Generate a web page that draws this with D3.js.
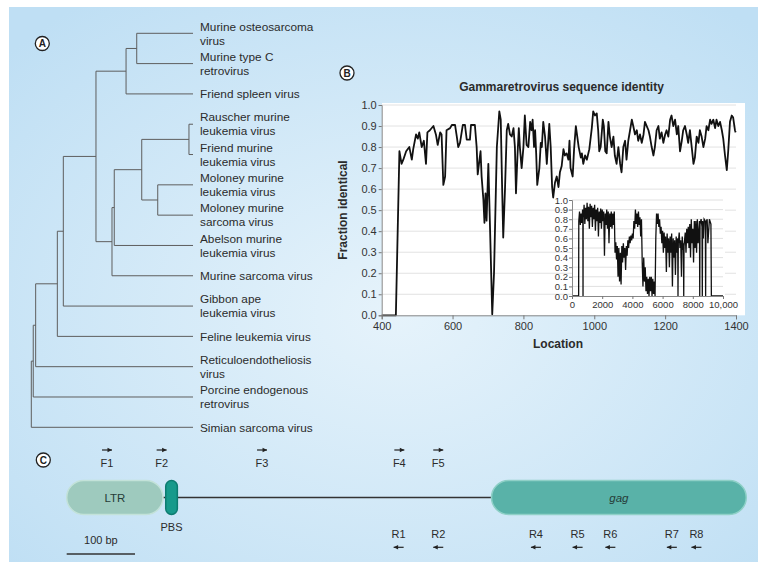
<!DOCTYPE html>
<html>
<head>
<meta charset="utf-8">
<script src="https://cdn.jsdelivr.net/npm/d3@7"></script>
<style>
  body { margin: 0; background: #fff; }
  svg { display: block; font-family: "Liberation Sans", Arial, sans-serif; }
</style>
</head>
<body>
<div id="fig"></div>
<script>
const width = 758, height = 562;

// ---- panel A: tree, flat table (id, parent, distance from root 0..1)
const treeNodes = [
  ["n0", "", 0], ["n1", "n0", 0.012], ["n2", "n1", 0.027], ["n3", "n2", 0.161],
  ["n4", "n3", 0.198], ["n5", "n4", 0.40], ["n6", "n5", 0.586], ["n7", "n6", 0.652],
  ["n8", "n5", 0.499], ["n9", "n8", 0.513], ["n10", "n9", 0.683], ["n11", "n10", 0.975],
  ["n12", "n10", 0.782]
];
// leaves, top to bottom, with their parent node
const leafNames = [
  "Murine osteosarcoma|virus", "Murine type C|retrovirus", "Friend spleen virus",
  "Rauscher murine|leukemia virus", "Friend murine|leukemia virus",
  "Moloney murine|leukemia virus", "Moloney murine|sarcoma virus",
  "Abelson murine|leukemia virus", "Murine sarcoma virus", "Gibbon ape|leukemia virus",
  "Feline leukemia virus", "Reticuloendotheliosis|virus", "Porcine endogenous|retrovirus",
  "Simian sarcoma virus"
];
const leafParents = ["n7", "n7", "n6", "n11", "n11", "n12", "n12", "n9", "n8", "n4", "n3", "n2", "n1", "n0"];

// ---- panel B: identity along the genome (location, fraction identical)
const yTicks = [0, 0.1, 0.2, 0.3, 0.4, 0.5, 0.6, 0.7, 0.8, 0.9, 1.0];
const locTicks = [400, 600, 800, 1000, 1200, 1400];
const identity = [[400,0],[440,0],[450,0.78],[456,0.72],[461,0.74],[469,0.78],[478,0.80],[485,0.74],[489,0.79],[497,0.86],[502,0.84],[506,0.87],[513,0.80],[519,0.83],[525,0.72],[529,0.87],[536,0.88],[546,0.90],[553,0.86],[558,0.81],[565,0.87],[569,0.86],[574,0.62],[579,0.66],[583,0.88],[593,0.89],[598,0.905],[607,0.905],[612,0.85],[616,0.80],[621,0.82],[629,0.905],[635,0.905],[640,0.835],[649,0.835],[652,0.905],[663,0.905],[668,0.80],[671,0.67],[676,0.74],[679,0.78],[682,0.66],[687,0.55],[690,0.44],[693,0.58],[696,0.45],[701,0.72],[706,0.40],[712,0.005],[717,0.20],[725,0.80],[732,0.97],[736,0.93],[740,0.60],[743,0.37],[748,0.60],[753,0.88],[757,0.91],[762,0.86],[767,0.85],[772,0.89],[776,0.80],[779,0.58],[783,0.75],[787,0.89],[790,0.80],[795,0.70],[800,0.80],[804,0.95],[809,0.81],[814,0.80],[819,0.92],[823,0.88],[826,0.93],[830,0.80],[833,0.88],[836,0.77],[839,0.62],[845,0.70],[849,0.82],[852,0.80],[856,0.92],[861,0.85],[866,0.72],[873,0.91],[877,0.80],[881,0.61],[884,0.56],[889,0.63],[894,0.66],[899,0.61],[903,0.68],[908,0.71],[913,0.79],[917,0.76],[922,0.77],[927,0.74],[930,0.83],[933,0.70],[939,0.66],[943,0.79],[948,0.90],[952,0.85],[956,0.80],[962,0.75],[965,0.77],[969,0.72],[974,0.76],[979,0.74],[986,0.79],[993,0.89],[997,0.97],[1002,0.95],[1007,0.96],[1011,0.88],[1014,0.78],[1018,0.80],[1024,0.93],[1027,0.90],[1031,0.78],[1035,0.77],[1040,0.92],[1044,0.85],[1049,0.80],[1054,0.85],[1058,0.76],[1063,0.72],[1068,0.80],[1073,0.72],[1077,0.68],[1082,0.80],[1087,0.83],[1091,0.74],[1096,0.83],[1101,0.88],[1106,0.93],[1110,0.90],[1115,0.86],[1120,0.88],[1124,0.83],[1129,0.86],[1134,0.82],[1139,0.86],[1143,0.92],[1148,0.90],[1153,0.88],[1157,0.85],[1162,0.80],[1167,0.76],[1171,0.80],[1176,0.88],[1181,0.90],[1185,0.84],[1190,0.87],[1195,0.82],[1200,0.86],[1204,0.88],[1209,0.85],[1214,0.93],[1218,0.95],[1223,0.90],[1228,0.93],[1233,0.86],[1237,0.90],[1242,0.78],[1247,0.83],[1251,0.88],[1256,0.90],[1261,0.86],[1265,0.82],[1270,0.88],[1275,0.80],[1280,0.72],[1284,0.75],[1289,0.85],[1294,0.82],[1298,0.88],[1303,0.85],[1308,0.80],[1313,0.84],[1317,0.90],[1322,0.88],[1327,0.93],[1331,0.91],[1336,0.93],[1341,0.89],[1345,0.93],[1350,0.90],[1355,0.92],[1360,0.88],[1364,0.84],[1369,0.76],[1374,0.69],[1378,0.78],[1383,0.92],[1388,0.95],[1392,0.94],[1397,0.88],[1399,0.87]];

// inset: whole genome
const insetTicks = [0, 2000, 4000, 6000, 8000, 10000];
const genome = [[0,0],[440,0],[450,0.78],[500,0.88],[550,0.74],[600,0.86],[650,0.76],[700,0.90],[720,0.80],[730,0],[740,0.82],[770,0.85],[800,0.95],[850,0.75],[900,0.92],[950,0.80],[1000,0.97],[1050,0.78],[1100,0.93],[1150,0.70],[1200,0.96],[1250,0.82],[1300,0.94],[1350,0.72],[1400,0.92],[1450,0.80],[1500,0.95],[1550,0.68],[1600,0.90],[1650,0.78],[1700,0.92],[1750,0.62],[1800,0.88],[1850,0.76],[1900,0.91],[1950,0.70],[2000,0.90],[2050,0.78],[2100,0.88],[2150,0.42],[2200,0.86],[2250,0.74],[2300,0.90],[2350,0.70],[2400,0.88],[2450,0.55],[2500,0.86],[2550,0.72],[2600,0.88],[2650,0.70],[2700,0.86],[2750,0.74],[2800,0.88],[2850,0.45],[2900,0.56],[2950,0.38],[3000,0.52],[3050,0.20],[3100,0.50],[3150,0.15],[3200,0.45],[3250,0.12],[3300,0.52],[3350,0.35],[3400,0.55],[3450,0.40],[3500,0.50],[3550,0.27],[3600,0.52],[3650,0.42],[3700,0.58],[3750,0.50],[3800,0.62],[3850,0.55],[3900,0.63],[3950,0.58],[4000,0.65],[4050,0.60],[4100,0.78],[4150,0.70],[4200,0.90],[4250,0.75],[4300,0.86],[4350,0.72],[4400,0.88],[4450,0.74],[4500,0.82],[4550,0.62],[4600,0.80],[4650,0.35],[4700,0.10],[4750,0.40],[4800,0.15],[4850,0.30],[4900,0.05],[4950,0.20],[5000,0.02],[5050,0.18],[5100,0],[5150,0.20],[5200,0.05],[5250,0.20],[5300,0],[5350,0.18],[5400,0.02],[5450,0.15],[5500,0],[5550,0.60],[5600,0.86],[5650,0.75],[5700,0.86],[5750,0.72],[5800,0.80],[5850,0.65],[5900,0.72],[5950,0.55],[6000,0.68],[6050,0.45],[6100,0.66],[6150,0.50],[6200,0.62],[6250,0.25],[6300,0.65],[6350,0.45],[6400,0.60],[6450,0.30],[6500,0.62],[6550,0.45],[6600,0.65],[6650,0.10],[6700,0.60],[6750,0.40],[6800,0.58],[6850,0.22],[6900,0.62],[6950,0.45],[7000,0.60],[7020,0],[7040,0.55],[7100,0.66],[7150,0.50],[7200,0.58],[7250,0.20],[7300,0.62],[7350,0.48],[7380,0.55],[7400,0],[7420,0.52],[7500,0.66],[7550,0.45],[7600,0.70],[7650,0.55],[7700,0.72],[7750,0.50],[7800,0.75],[7850,0.40],[7900,0.80],[7950,0.55],[8000,0.70],[8050,0.35],[8100,0.78],[8150,0.50],[8200,0.78],[8250,0.45],[8300,0.80],[8350,0.55],[8440,0.78],[8460,0],[8480,0.75],[8550,0.80],[8610,0.72],[8630,0],[8650,0.78],[8700,0.60],[8750,0.80],[8830,0.78],[8850,0],[8870,0.76],[8950,0.80],[9000,0.55],[9100,0.80],[9200,0.75],[9230,0],[10000,0]];

// ---- panel C: genome map in bp
const featureNames = ["LTR", "PBS", "gag"];
const featureStart = [0, 145, 622];
const featureEnd = [141, 162, 995];
const fwdNames = ["F1", "F2", "F3", "F4", "F5"];
const fwdPos = [59, 139, 286, 487, 544];
const revNames = ["R1", "R2", "R4", "R5", "R6", "R7", "R8"];
const revPos = [486, 544, 687, 748, 796, 886, 922];
const scaleBarBp = 100;

const svg = d3.select("#fig").append("svg")
    .attr("width", width)
    .attr("height", height);

const defs = svg.append("defs");
const grad = defs.append("radialGradient").attr("id", "bg")
    .attr("cx", "52%").attr("cy", "55%").attr("r", "70%");
grad.append("stop").attr("offset", "0%").attr("stop-color", "#e6f3fb");
grad.append("stop").attr("offset", "100%").attr("stop-color", "#bfdff4");

svg.append("rect").attr("x", 9).attr("y", 7)
    .attr("width", width - 9).attr("height", height - 7)
    .attr("fill", "url(#bg)");

const ink = "#2b2b2b";

function panelLabel(x, y, letter) {
    svg.append("circle").attr("cx", x).attr("cy", y).attr("r", 7)
        .attr("fill", "#fff").attr("stroke", "#222").attr("stroke-width", 1.3);
    svg.append("text").attr("x", x).attr("y", y).attr("dy", "0.36em")
        .attr("text-anchor", "middle").style("font-size", "10px")
        .style("font-weight", "bold").attr("fill", "#222").text(letter);
}

// ============ A: tree
const rows = treeNodes.map(d => ({id: d[0], parent: d[1] || null, d: d[2]}))
    .concat(leafNames.map((n, i) => ({id: n, parent: leafParents[i], d: 1})));
const root = d3.stratify().id(d => d.id).parentId(d => d.parent)(rows);

const xTree = d3.scaleLinear().domain([0, 1]).range([31.3, 193]);
const yLeaf = d3.scalePoint().domain(leafNames).range([33.3, 427.3]);

root.eachAfter(n => {
    n.y = n.children ? d3.mean(n.children, c => c.y) : yLeaf(n.id);
});

const tg = svg.append("g").attr("stroke", "#5e5e5e").attr("stroke-width", 1).attr("fill", "none");
root.descendants().forEach(n => {
    if (n.children) {
        const ys = n.children.map(c => c.y);
        tg.append("line").attr("x1", xTree(n.data.d)).attr("x2", xTree(n.data.d))
            .attr("y1", d3.min(ys)).attr("y2", d3.max(ys));
    }
    if (n.parent) {
        tg.append("line").attr("x1", xTree(n.parent.data.d)).attr("x2", xTree(n.data.d))
            .attr("y1", n.y).attr("y2", n.y);
    }
});

const lg = svg.append("g").style("font-size", "11.8px").attr("fill", ink);
root.leaves().forEach(n => {
    const lines = n.id.split("|");
    lines.forEach((t, i) => {
        lg.append("text").attr("x", 200)
            .attr("y", n.y + (i - (lines.length - 1) / 2) * 14)
            .attr("dy", "0.36em").text(t);
    });
});

panelLabel(42.3, 43.5, "A");

// ============ B: identity plot
const x = d3.scaleLinear().domain([400, 1400]).range([381.7, 736]);
const y = d3.scaleLinear().domain([0, 1]).range([315.3, 105]);

svg.append("rect").attr("x", 382).attr("y", 103)
    .attr("width", 745 - 382).attr("height", 315.3 - 103).attr("fill", "#fff");

svg.append("g").selectAll("line").data(yTicks.slice(1)).join("line")
    .attr("x1", x(400)).attr("x2", x(1400))
    .attr("y1", d => y(d)).attr("y2", d => y(d))
    .attr("stroke", "#e2e2e2").attr("stroke-width", 1);

const line = d3.line().x(d => x(d[0])).y(d => y(d[1]));
svg.append("path").datum(identity).attr("d", line)
    .attr("fill", "none").attr("stroke", "#111").attr("stroke-width", 1.8)
    .attr("stroke-linejoin", "round");

const yAxis = svg.append("g").attr("transform", `translate(${x(400)},0)`)
    .call(d3.axisLeft(y).tickValues(yTicks).tickFormat(d3.format(".1f")).tickSize(3).tickPadding(2));
const xAxis = svg.append("g").attr("transform", `translate(0,${y(0)})`)
    .call(d3.axisBottom(x).tickValues(locTicks).tickFormat(d3.format("d")).tickSize(4).tickPadding(3));
[yAxis, xAxis].forEach(a => {
    a.selectAll("text").style("font-size", "11px").attr("fill", "#333")
        .style("font-family", "\"Liberation Sans\", Arial, sans-serif");
    a.selectAll("line").attr("stroke", "#777");
    a.select(".domain").attr("stroke", "#888");
});

svg.append("text").attr("x", 561.5).attr("y", 87).attr("dy", "0.36em")
    .attr("text-anchor", "middle").style("font-size", "12px").style("font-weight", "bold")
    .attr("fill", ink).text("Gammaretrovirus sequence identity");
svg.append("text").attr("x", 558).attr("y", 344).attr("dy", "0.36em")
    .attr("text-anchor", "middle").style("font-size", "12px").style("font-weight", "bold")
    .attr("fill", ink).text("Location");
svg.append("text").attr("transform", "translate(343,210) rotate(-90)").attr("dy", "0.36em")
    .attr("text-anchor", "middle").style("font-size", "12px").style("font-weight", "bold")
    .attr("fill", ink).text("Fraction identical");

panelLabel(347, 73, "B");

// inset
const x2 = d3.scaleLinear().domain([0, 10000]).range([572, 723]);
const y2 = d3.scaleLinear().domain([0, 1]).range([296, 200]);

svg.append("rect").attr("x", x2(0)).attr("y", y2(1) - 2)
    .attr("width", x2(10000) - x2(0) + 2).attr("height", y2(0) - y2(1) + 2).attr("fill", "#fff");
svg.append("g").selectAll("line").data(yTicks.slice(1)).join("line")
    .attr("x1", x2(0)).attr("x2", x2(10000))
    .attr("y1", d => y2(d)).attr("y2", d => y2(d))
    .attr("stroke", "#e0e0e0").attr("stroke-width", 1);

const line2 = d3.line().x(d => x2(d[0])).y(d => y2(d[1]));
svg.append("path").datum(genome).attr("d", line2)
    .attr("fill", "none").attr("stroke", "#111").attr("stroke-width", 1.3);

const iy = svg.append("g").attr("transform", `translate(${x2(0)},0)`)
    .call(d3.axisLeft(y2).tickValues(yTicks).tickFormat(d3.format(".1f")).tickSize(3).tickPadding(1));
const ix = svg.append("g").attr("transform", `translate(0,${y2(0)})`)
    .call(d3.axisBottom(x2).tickValues(insetTicks)
        .tickFormat(d => d >= 10000 ? d3.format(",")(d) : String(d)).tickSize(3).tickPadding(2));
[iy, ix].forEach(a => {
    a.selectAll("text").style("font-size", "9.5px").attr("fill", "#333")
        .style("font-family", "\"Liberation Sans\", Arial, sans-serif");
    a.selectAll("line").attr("stroke", "#777");
    a.select(".domain").attr("stroke", "#888");
});

// ============ C: genome map
panelLabel(43.3, 460, "C");

const bp = d3.scaleLinear().domain([0, 100]).range([66.7, 135]);
const midY = 497.5, boxH = 34;
const fills = {LTR: "#9ecabe", PBS: "#179a8b", gag: "#59b2a8"};
const rims = {LTR: "#c3e2d9", PBS: "#0d7c70", gag: "#8fd0c7"};

svg.append("line").attr("x1", bp(featureEnd[0])).attr("x2", bp(featureStart[2]))
    .attr("y1", midY).attr("y2", midY).attr("stroke", "#333").attr("stroke-width", 1.5);

featureNames.forEach((name, i) => {
    const x0 = bp(featureStart[i]), x1 = bp(featureEnd[i]);
    const w = x1 - x0;
    const r = Math.min(boxH / 2, w / 2);
    svg.append("rect").attr("x", x0).attr("y", midY - boxH / 2)
        .attr("width", w).attr("height", boxH).attr("rx", r).attr("ry", r)
        .attr("fill", fills[name]).attr("stroke", rims[name]).attr("stroke-width", 1.5);
    if (name !== "PBS") {
        svg.append("text").attr("x", (x0 + x1) / 2).attr("y", midY).attr("dy", "0.36em")
            .attr("text-anchor", "middle").style("font-size", "11.5px")
            .style("font-style", name === "gag" ? "italic" : "normal")
            .attr("fill", "#263c38").text(name);
    } else {
        svg.append("text").attr("x", (x0 + x1) / 2).attr("y", 527.5).attr("dy", "0.36em")
            .attr("text-anchor", "middle").style("font-size", "11px")
            .attr("fill", ink).text(name);
    }
});

function arrow(cx, cy, dir) {
    const half = 5;
    svg.append("line").attr("x1", cx - half).attr("x2", cx + half)
        .attr("y1", cy).attr("y2", cy).attr("stroke", "#222").attr("stroke-width", 1.2);
    const tip = cx + dir * half;
    svg.append("path")
        .attr("d", `M${tip},${cy} L${tip - dir * 4.5},${cy - 2.2} L${tip - dir * 4.5},${cy + 2.2} Z`)
        .attr("fill", "#222");
}

fwdNames.forEach((n, i) => {
    const cx = bp(fwdPos[i]);
    arrow(cx, 450, 1);
    svg.append("text").attr("x", cx).attr("y", 463.5).attr("dy", "0.36em")
        .attr("text-anchor", "middle").style("font-size", "11px").attr("fill", ink).text(n);
});
revNames.forEach((n, i) => {
    const cx = bp(revPos[i]);
    arrow(cx, 547.3, -1);
    svg.append("text").attr("x", cx).attr("y", 534).attr("dy", "0.36em")
        .attr("text-anchor", "middle").style("font-size", "11px").attr("fill", ink).text(n);
});

// scale bar
svg.append("line").attr("x1", bp(0)).attr("x2", bp(scaleBarBp))
    .attr("y1", 554).attr("y2", 554).attr("stroke", "#333").attr("stroke-width", 1.5);
svg.append("text").attr("x", (bp(0) + bp(scaleBarBp)) / 2).attr("y", 540).attr("dy", "0.36em")
    .attr("text-anchor", "middle").style("font-size", "11px").attr("fill", ink).text(scaleBarBp + " bp");
</script>
</body>
</html>
